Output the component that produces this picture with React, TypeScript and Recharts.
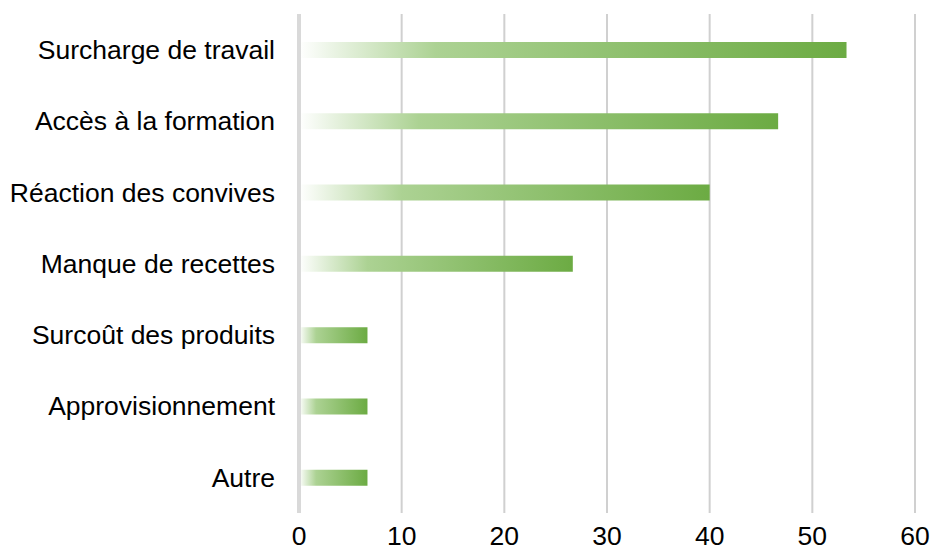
import {
  Bar,
  BarChart,
  CartesianGrid,
  ReferenceLine,
  XAxis,
  YAxis,
} from "recharts";

const categories = [
  "Surcharge de travail",
  "Accès à la formation",
  "Réaction des convives",
  "Manque de recettes",
  "Surcoût des produits",
  "Approvisionnement",
  "Autre",
];
const values = [53.33, 46.67, 40, 26.67, 6.67, 6.67, 6.67];
const xTicks = [0, 10, 20, 30, 40, 50, 60];

const data = categories.map((name, i) => ({ name, value: values[i] }));

const font = "'Liberation Sans', Arial, sans-serif";

export default function App() {
  return (
    <div style={{ position: "absolute", left: 0, top: 0 }}>
      <BarChart
        width={931}
        height={556}
        data={data}
        layout="vertical"
        margin={{ top: 14, right: 16, bottom: 0, left: 0 }}
      >
        <defs>
          <linearGradient id="barFade" x1="0" y1="0" x2="1" y2="0">
            <stop offset="0" stopColor="#ffffff" />
            <stop offset="0.25" stopColor="#acd293" />
            <stop offset="1" stopColor="#6cab43" />
          </linearGradient>
        </defs>
        <CartesianGrid horizontal={false} stroke="#d0d0d0" strokeWidth={2} />
        <XAxis
          type="number"
          domain={[0, 60]}
          ticks={xTicks}
          axisLine={false}
          tickLine={false}
          tickSize={0}
          tickMargin={13}
          height={43}
          tick={{ fill: "#000", fontSize: 26.5, fontFamily: font }}
        />
        <YAxis
          type="category"
          dataKey="name"
          width={299}
          axisLine={false}
          tickLine={false}
          tickSize={0}
          tickMargin={24}
          tick={{ fill: "#000", fontSize: 26.5, fontFamily: font }}
        />
        <ReferenceLine x={0} stroke="#d9d9d9" strokeWidth={4} />
        <Bar
          dataKey="value"
          fill="url(#barFade)"
          barSize={16}
          isAnimationActive={false}
        />
      </BarChart>
    </div>
  );
}
